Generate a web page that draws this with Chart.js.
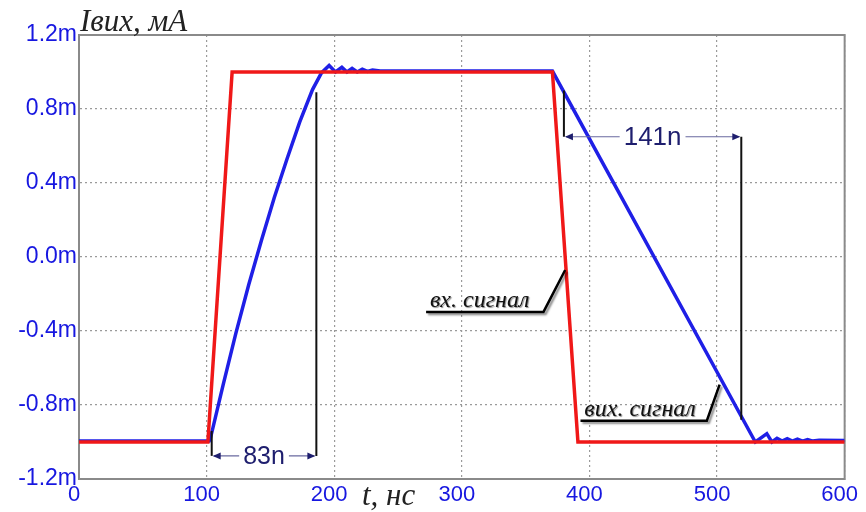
<!DOCTYPE html>
<html>
<head>
<meta charset="utf-8">
<script src="https://cdn.jsdelivr.net/npm/chart.js@4/dist/chart.umd.min.js"></script>
<style>
  html, body { margin: 0; padding: 0; background: #fff; }
  #wrap { width: 866px; height: 512px; }
</style>
</head>
<body>
<div id="wrap"><canvas id="chart" width="866" height="512"></canvas></div>
<script>
// input signal (red), t in ns, I in mA
const inputTime = [0, 101, 120, 371, 391, 600];
const inputValue = [-1.0, -1.0, 1.0, 1.0, -1.0, -1.0];

// output signal (blue)
const outputTime = [0, 102, 103, 113, 123, 133, 143, 153, 163, 173, 183, 190, 196, 201, 206, 210, 214, 218, 222, 226, 230, 236,
    371, 530, 535, 539, 543, 547, 551, 555, 559, 563, 567, 571, 575, 580, 600];
const outputValue = [-0.995, -0.995, -0.98, -0.69, -0.41, -0.15, 0.09, 0.32, 0.53, 0.73, 0.905, 0.995, 1.035, 1.0, 1.025, 1.0, 1.02, 1.0, 1.015, 1.003, 1.01, 1.005,
    1.005, -1.0, -0.975, -0.955, -1.0, -0.98, -0.995, -0.982, -0.995, -0.985, -0.995, -0.987, -0.995, -0.99, -0.992];

// axes
const xTicks = [0, 100, 200, 300, 400, 500, 600];
const yTicks = [-1.2, -0.8, -0.4, 0, 0.4, 0.8, 1.2];
const yTickLabels = ["-1.2m", "-0.8m", "-0.4m", "0.0m", "0.4m", "0.8m", "1.2m"];

function toPoints(xs, ys) {
    return xs.map((x, i) => ({ x: x, y: ys[i] }));
}

const navy = "#1e1e6e";
const tickBlue = "#1717e0";

// measurement marks and captions, drawn in data units
const markers = {
    id: "markers",
    afterDatasetsDraw(chart) {
        const ctx = chart.ctx;
        const xs = chart.scales.x, ys = chart.scales.y;
        const px = v => xs.getPixelForValue(v);
        const py = v => ys.getPixelForValue(v);

        function line(pts, color, width) {
            ctx.beginPath();
            ctx.moveTo(px(pts[0][0]), py(pts[0][1]));
            for (let i = 1; i < pts.length; i++) ctx.lineTo(px(pts[i][0]), py(pts[i][1]));
            ctx.strokeStyle = color;
            ctx.lineWidth = width;
            ctx.stroke();
        }

        function arrowHead(x, y, dir) {
            ctx.beginPath();
            ctx.moveTo(x, y);
            ctx.lineTo(x - dir * 8, y - 3.5);
            ctx.lineTo(x - dir * 8, y + 3.5);
            ctx.closePath();
            ctx.fillStyle = navy;
            ctx.fill();
        }

        function dimension(t1, t2, yv, text, size) {
            const x1 = px(t1), x2 = px(t2), y = py(yv);
            ctx.font = size + "px 'Liberation Sans', Arial, sans-serif";
            ctx.textAlign = "center";
            ctx.textBaseline = "middle";
            const cx = (x1 + x2) / 2;
            const w = ctx.measureText(text).width + 8;
            ctx.strokeStyle = "#6a6aa0";
            ctx.lineWidth = 1.2;
            ctx.beginPath();
            ctx.moveTo(x1 + 2, y); ctx.lineTo(cx - w / 2, y);
            ctx.moveTo(cx + w / 2, y); ctx.lineTo(x2 - 2, y);
            ctx.stroke();
            arrowHead(x1 + 1, y, -1);
            arrowHead(x2 - 1, y, 1);
            ctx.fillStyle = navy;
            ctx.fillText(text, cx, y + 1);
        }

        ctx.save();
        ctx.lineCap = "butt";

        // 83n
        line([[104, -0.94], [104, -1.075]], "#111", 2);
        line([[186, 0.89], [186, -1.075]], "#111", 2);
        dimension(104, 186, -1.075, "83n", 25);

        // 141n
        line([[380, 0.9], [380, 0.65]], "#111", 2);
        line([[519, 0.65], [519, -0.88]], "#111", 2);
        dimension(380, 519, 0.65, "141n", 26);

        // captions with leaders
        ctx.shadowColor = "rgba(0,0,0,0.45)";
        ctx.shadowOffsetX = 2;
        ctx.shadowOffsetY = 2;
        ctx.shadowBlur = 2;
        line([[272, -0.297], [364, -0.297], [381, -0.07]], "#000", 2.5);
        line([[393, -0.885], [492, -0.885], [502, -0.69]], "#000", 2.5);
        ctx.font = "italic 24px 'Liberation Serif', 'DejaVu Serif', serif";
        ctx.textAlign = "left";
        ctx.textBaseline = "alphabetic";
        ctx.fillStyle = "#111";
        ctx.shadowOffsetX = 1;
        ctx.shadowOffsetY = 1;
        ctx.shadowBlur = 1;
        ctx.fillText("вх. сигнал", px(275), py(-0.297) - 5);
        ctx.fillText("вих. сигнал", px(396), py(-0.885) - 5);
        ctx.restore();

        // axis titles
        ctx.save();
        ctx.font = "italic 31px 'Liberation Serif', 'DejaVu Serif', serif";
        ctx.fillStyle = "#222";
        ctx.textAlign = "left";
        ctx.textBaseline = "alphabetic";
        ctx.fillText("Iвих, мА", 80, 31);
        ctx.fillText("t, нс", 362, 505);
        ctx.restore();
    }
};

const ctx = document.getElementById("chart").getContext("2d");

const chart = new Chart(ctx, {
    type: "line",
    data: {
        datasets: [{
            label: "вих. сигнал",
            data: toPoints(outputTime, outputValue),
            borderColor: "#1f1fe6",
            borderWidth: 3.5,
            pointRadius: 0,
            tension: 0,
            fill: false,
            order: 2
        }, {
            label: "вх. сигнал",
            data: toPoints(inputTime, inputValue),
            borderColor: "#f01818",
            borderWidth: 3.5,
            pointRadius: 0,
            tension: 0,
            fill: false,
            order: 1
        }]
    },
    options: {
        responsive: false,
        animation: false,
        layout: { padding: { left: 0, right: 19, top: 35, bottom: 0 } },
        plugins: {
            legend: { display: false },
            tooltip: { enabled: false }
        },
        scales: {
            x: {
                type: "linear",
                min: 0,
                max: 600,
                afterBuildTicks: s => { s.ticks = xTicks.map(v => ({ value: v })); },
                afterFit: s => { s.height = 33; },
                grid: { color: "#9a9a9a", lineWidth: 1.2, drawTicks: false },
                border: { display: true, color: "#8a8a8a", width: 2, dash: [2, 3] },
                ticks: {
                    color: tickBlue,
                    font: { family: "'Liberation Sans', Arial, sans-serif", size: 22 },
                    padding: 3,
                    labelOffset: -5,
                    maxRotation: 0,
                    autoSkip: false
                }
            },
            y: {
                type: "linear",
                min: -1.2,
                max: 1.2,
                afterBuildTicks: s => { s.ticks = yTicks.map(v => ({ value: v })); },
                afterFit: s => { s.width = 79; },
                grid: { color: "#9a9a9a", lineWidth: 1.2, drawTicks: false },
                border: { display: true, color: "#8a8a8a", width: 2, dash: [2, 3] },
                ticks: {
                    color: tickBlue,
                    font: { family: "'Liberation Sans', Arial, sans-serif", size: 23 },
                    padding: 2,
                    autoSkip: false,
                    callback: (v, i) => yTickLabels[i]
                }
            }
        }
    },
    plugins: [{
        id: "frame",
        beforeDatasetsDraw(chart) {
            const a = chart.chartArea, c = chart.ctx;
            c.save();
            c.strokeStyle = "#8a8a8a";
            c.lineWidth = 2;
            c.strokeRect(a.left, a.top, a.right - a.left, a.bottom - a.top);
            c.restore();
        }
    }, markers]
});
</script>
</body>
</html>
